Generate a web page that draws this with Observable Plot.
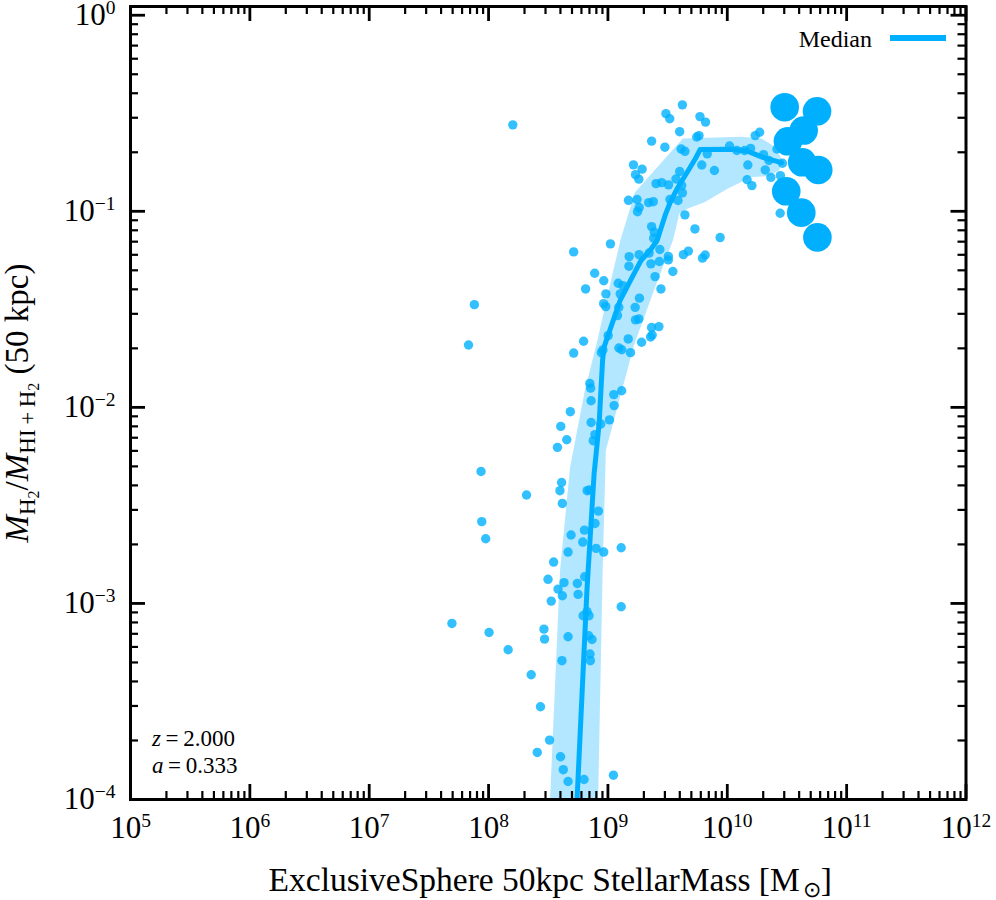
<!DOCTYPE html>
<html><head><meta charset="utf-8">
<script src="https://cdn.jsdelivr.net/npm/d3@7"></script>
<script src="https://cdn.jsdelivr.net/npm/@observablehq/plot@0.6"></script>
<style>
html,body{margin:0;padding:0;background:#fff;}
#wrap{position:relative;width:996px;height:900px;}
#swatch{position:absolute;left:890px;top:35px;width:56px;height:6px;background:#00b0ff;}
</style></head><body><div id="wrap"><div id="swatch"></div></div>
<script>
// log10 of ExclusiveSphere 50kpc stellar mass [Msun] (small markers)
const logMass = [8.203,7.881,7.832,9.624,9.486,9.518,9.771,9.818,9.601,9.366,9.477,9.744,9.763,9.613,9.645,9.832,9.786,9.892,10.019,10.080,10.145,10.195,10.234,10.271,10.172,10.166,10.206,10.318,10.365,10.445,10.443,10.304,10.349,10.462,10.416,9.214,9.286,9.231,9.259,9.403,9.450,9.508,9.601,9.570,9.618,9.624,9.172,9.244,9.262,9.248,9.341,9.380,9.520,9.587,9.645,9.729,9.940,9.366,9.389,9.383,9.435,9.021,8.713,9.674,9.815,9.261,9.345,9.506,9.632,9.792,9.360,9.431,9.506,9.178,9.176,9.395,9.544,9.444,8.889,8.965,8.813,8.983,8.964,8.982,9.086,9.126,9.103,9.264,9.228,9.091,9.080,9.231,9.259,9.366,9.427,9.357,9.371,9.282,9.170,9.002,8.796,8.713,8.945,8.958,9.092,9.116,9.189,8.848,8.855,9.115,9.049,8.859,9.052,8.685,8.859,8.940,9.013,8.605,8.655,8.891,8.877,8.577,7.937,8.612,8.598,8.618,8.318,8.826,8.845,8.920,8.892,7.943,7.976,8.691,8.803,8.789,8.666,8.901,8.965,9.111,8.545,8.498,8.582,8.632,8.618,8.744,8.750,8.805,8.525,9.111,7.693,8.004,8.164,8.464,8.469,8.666,8.792,8.842,8.825,8.839,8.867,8.850,8.853,8.615,8.357,8.435,8.511,8.408,8.603,8.626,8.666,8.800,9.046];
// log10 of H2 fraction M_H2/M_HI+H2 (small markers)
const logFrac = [-0.559,-1.476,-1.682,-0.457,-0.502,-0.528,-0.517,-0.545,-0.594,-0.642,-0.673,-0.621,-0.614,-0.682,-0.694,-0.707,-0.764,-0.792,-0.667,-0.690,-0.690,-0.679,-0.614,-0.597,-0.764,-0.839,-0.869,-0.789,-0.827,-0.818,-1.010,-0.711,-0.741,-0.755,-0.682,-0.763,-0.785,-0.813,-0.836,-0.859,-0.854,-0.865,-0.797,-0.835,-0.869,-0.906,-0.944,-0.940,-0.981,-1.002,-0.956,-0.951,-0.940,-0.945,-1.018,-1.090,-1.134,-1.078,-1.107,-1.137,-1.195,-1.166,-1.207,-1.203,-1.223,-1.221,-1.213,-1.230,-1.221,-1.239,-1.268,-1.256,-1.248,-1.231,-1.280,-1.333,-1.307,-1.396,-1.316,-1.354,-1.396,-1.421,-1.471,-1.486,-1.367,-1.379,-1.421,-1.443,-1.490,-1.490,-1.532,-1.554,-1.549,-1.593,-1.588,-1.641,-1.631,-1.668,-1.651,-1.634,-1.663,-1.723,-1.721,-1.707,-1.697,-1.706,-1.721,-1.878,-1.902,-1.915,-1.935,-1.966,-1.991,-2.022,-2.077,-2.085,-2.064,-2.097,-2.165,-2.139,-2.170,-2.204,-2.327,-2.383,-2.425,-2.490,-2.447,-2.425,-2.421,-2.529,-2.592,-2.583,-2.670,-2.651,-2.626,-2.687,-2.738,-2.719,-2.738,-2.716,-2.789,-2.877,-2.927,-2.894,-2.961,-2.898,-2.954,-2.864,-2.988,-3.017,-3.102,-3.148,-3.236,-3.131,-3.182,-3.170,-3.063,-3.063,-3.041,-3.165,-3.184,-3.258,-3.292,-3.292,-3.364,-3.527,-3.697,-3.760,-3.782,-3.848,-3.908,-3.898,-3.876];
// large markers
const bigLogMass = [10.481,10.752,10.640,10.508,10.628,10.762,10.494,10.620,10.755];
const bigLogFrac = [-0.469,-0.490,-0.588,-0.643,-0.750,-0.789,-0.898,-1.007,-1.133];
// median curve
const medianLogMass = [8.739,8.824,8.884,8.926,8.955,8.966,9.101,9.210,9.277,9.353,9.412,9.479,9.521,9.580,9.664,9.731,9.773,10.025,10.168,10.303,10.454];
const medianLogFrac = [-4.03,-2.935,-2.340,-2.085,-1.762,-1.695,-1.456,-1.328,-1.251,-1.200,-1.149,-1.021,-0.955,-0.884,-0.801,-0.733,-0.685,-0.683,-0.693,-0.726,-0.752];
// scatter band: upper-left edge and lower-right edge
const bandUpperLogMass = [8.517,8.603,8.687,8.811,8.912,9.044,9.109,9.231,9.632,10.122,10.290,10.402,10.466];
const bandUpperLogFrac = [-4.032,-2.833,-2.308,-1.915,-1.670,-1.318,-1.149,-0.905,-0.631,-0.622,-0.631,-0.673,-0.741];
const bandLowerLogMass = [8.921,8.960,8.987,9.223,9.391,9.550,9.603,9.674,9.813,10.010,10.206,10.357,10.441];
const bandLowerLogFrac = [-4.032,-2.833,-2.221,-1.684,-1.404,-1.149,-1.012,-0.988,-0.956,-0.886,-0.828,-0.823,-0.792];
// axes
const xTickExps = [5,6,7,8,9,10,11,12];
const yTickExps = [-4,-3,-2,-1,0];
const xLabel = "ExclusiveSphere 50kpc StellarMass [M\u2299]";
const yLabel = "MH2/MHI+H2 (50 kpc)";
const legendLabel = "Median";
const zText = "z\u2009=\u20092.000";
const aText = "a\u2009=\u20090.333";

const BLUE = "#00b0ff";
const FONT = "'Liberation Serif','Times New Roman',serif";
const W = 996, H = 900, mL = 130, mR = 30.5, mT = 6, mB = 101;
const fH = H - mT - mB, fW = W - mL - mR;

const points = logMass.map((m, i) => ({x: 10 ** m, y: 10 ** logFrac[i]}));
const bigPoints = bigLogMass.map((m, i) => ({x: 10 ** m, y: 10 ** bigLogFrac[i]}));
const median = medianLogMass.map((m, i) => ({x: 10 ** m, y: 10 ** medianLogFrac[i]}));
const band = bandUpperLogMass.map((m, i) => ({
  x1: 10 ** m, y1: 10 ** bandUpperLogFrac[i],
  x2: 10 ** bandLowerLogMass[i], y2: 10 ** bandLowerLogFrac[i]
}));
const xMajor = xTickExps.map(e => 10 ** e);
const yMajor = yTickExps.map(e => 10 ** e);
const xMinor = [], yMinor = [];
for (const e of xTickExps.slice(0, -1)) for (let k = 2; k <= 9; k++) xMinor.push(k * 10 ** e);
for (const e of yTickExps.slice(0, -1)) for (let k = 2; k <= 9; k++) yMinor.push(k * 10 ** e);
const fmt = d => "10^" + Math.round(Math.log10(d));

const MAJ = 15, MIN = 8;
const svg = Plot.plot({
  width: W, height: H,
  marginLeft: mL, marginRight: mR, marginTop: mT, marginBottom: mB,
  style: {fontFamily: FONT, background: "white", color: "black", overflow: "visible"},
  x: {type: "log", domain: [1e5, 1e12]},
  y: {type: "log", domain: [1e-4, 1.108]},
  marks: [
    Plot.area(band, {x1: "x1", y1: "y1", x2: "x2", y2: "y2", fill: BLUE, fillOpacity: 0.3, clip: true}),
    Plot.dot(points, {x: "x", y: "y", r: 4.7, fill: BLUE, fillOpacity: 0.8, stroke: "none"}),
    Plot.line(median, {x: "x", y: "y", stroke: BLUE, strokeWidth: 5, clip: true}),
    Plot.dot(bigPoints, {x: "x", y: "y", r: 14.3, fill: BLUE, stroke: "none"}),
    // ticks (inward, on all four sides)
    Plot.ruleX(xMajor, {insetTop: fH - MAJ, stroke: "black", strokeWidth: 2.8}),
    Plot.ruleX(xMajor, {insetBottom: fH - MAJ, stroke: "black", strokeWidth: 2.8}),
    Plot.ruleX(xMinor, {insetTop: fH - MIN, stroke: "black", strokeWidth: 2.2}),
    Plot.ruleX(xMinor, {insetBottom: fH - MIN, stroke: "black", strokeWidth: 2.2}),
    Plot.ruleY(yMajor, {insetRight: fW - MAJ, stroke: "black", strokeWidth: 2.8}),
    Plot.ruleY(yMajor, {insetLeft: fW - MAJ, stroke: "black", strokeWidth: 2.8}),
    Plot.ruleY(yMinor, {insetRight: fW - MIN, stroke: "black", strokeWidth: 2.2}),
    Plot.ruleY(yMinor, {insetLeft: fW - MIN, stroke: "black", strokeWidth: 2.2}),
    Plot.frame({stroke: "black", strokeWidth: 3}),
    Plot.axisX({anchor: "bottom", ticks: xMajor, tickSize: 0, tickPadding: 16, tickFormat: fmt, fontSize: 31, label: null}),
    Plot.axisY({anchor: "left", ticks: yMajor, tickSize: 0, tickPadding: 15, tickFormat: fmt, fontSize: 31, label: null}),
    Plot.text([xLabel], {frameAnchor: "bottom", dx: 2, dy: 91, lineAnchor: "bottom", textAnchor: "middle", fontSize: 33.5, text: d => d}),
    Plot.text([yLabel], {frameAnchor: "left", dx: -103, dy: 0, rotate: -90, lineAnchor: "bottom", textAnchor: "middle", fontSize: 33, text: d => d}),
    Plot.text([zText], {frameAnchor: "bottom-left", dx: 21.5, dy: -54, lineAnchor: "bottom", textAnchor: "start", fontSize: 23, text: d => d}),
    Plot.text([aText], {frameAnchor: "bottom-left", dx: 21.5, dy: -27, lineAnchor: "bottom", textAnchor: "start", fontSize: 23, text: d => d}),
    Plot.text([legendLabel], {frameAnchor: "top-right", dx: -94, dy: 40.7, lineAnchor: "bottom", textAnchor: "end", fontSize: 24, text: d => d})
  ]
});

const NS = "http://www.w3.org/2000/svg";
function setParts(t, parts) {
  while (t.firstChild) t.removeChild(t.firstChild);
  for (const p of parts) {
    const s = document.createElementNS(NS, "tspan");
    s.textContent = p.t;
    if (p.fs) s.setAttribute("font-size", p.fs);
    if (p.dy) s.setAttribute("dy", p.dy);
    if (p.dx) s.setAttribute("dx", p.dx);
    if (p.it) s.setAttribute("font-style", "italic");
    t.appendChild(s);
  }
}
svg.querySelectorAll("text").forEach(t => {
  const s = t.textContent;
  let m;
  if ((m = s.match(/^10\^(-?\d+)$/))) {
    setParts(t, [{t: "10"}, {t: m[1].replace("-", "\u2212"), fs: 19.5, dy: -11}]);
  } else if (s === yLabel) {
    setParts(t, [{t: "M", it: 1}, {t: "H", fs: 23, dy: 7}, {t: "2", fs: 16, dy: 4},
      {t: "/", dy: -11}, {t: "M", it: 1}, {t: "HI\u2009+\u2009H", fs: 23, dy: 7}, {t: "2", fs: 16, dy: 4},
      {t: " (50 kpc)", dy: -11}]);
  } else if (s === xLabel) {
    setParts(t, [{t: "ExclusiveSphere 50kpc StellarMass [M"}, {t: "\u2299", fs: 22, dy: 6, dx: 3},
      {t: "]", dy: -6}]);
  } else if (s === zText || s === aText) {
    setParts(t, [{t: s[0], it: 1}, {t: s.slice(1)}]);
  }
});
document.getElementById("wrap").prepend(svg);
</script></body></html>
